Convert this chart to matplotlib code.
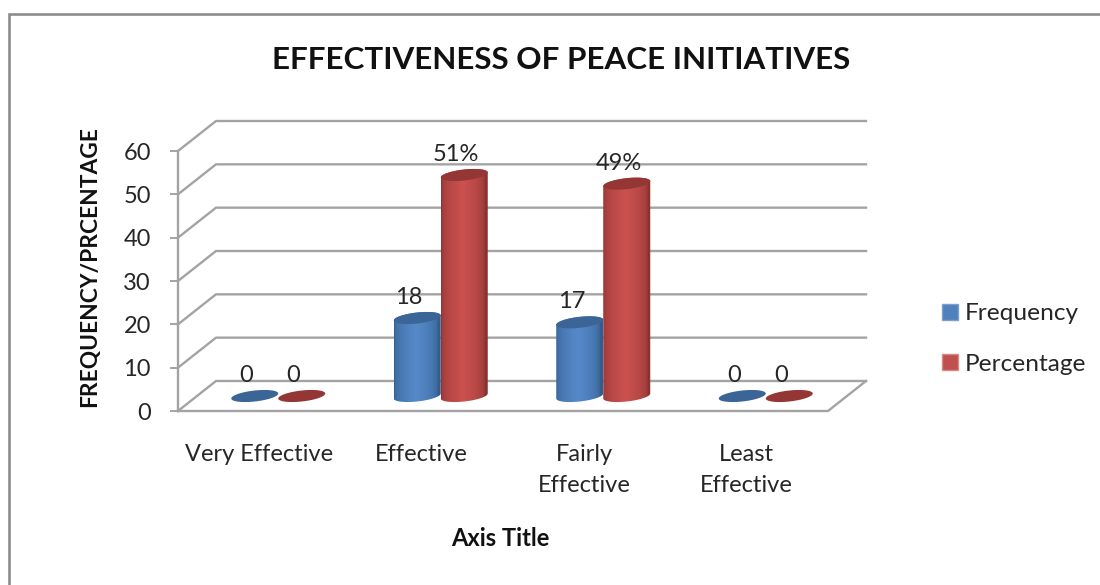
import numpy as np
import matplotlib
matplotlib.use('Agg')
import matplotlib.pyplot as plt
from matplotlib.lines import Line2D
from matplotlib.patches import Patch, Polygon

categories = ['Very Effective', 'Effective', 'Fairly\nEffective', 'Least\nEffective']
frequency = [0, 18, 17, 0]
percentage = [0, 51, 49, 0]
percentage_labels = ['0', '51%', '49%', '0']
yticks = [0, 10, 20, 30, 40, 50, 60]

W, H = 1100, 585
plt.rcParams['font.family'] = ['Lato', 'DejaVu Sans']
fig = plt.figure(figsize=(W / 100, H / 100), dpi=100)
ax = fig.add_axes([178 / W, 1 - 411 / H, 650 / W, 260 / H])
ax.set_xlim(-0.5, 3.5)
ax.set_ylim(0, 60)

# depth of the fake 3d box, in data units
dx = 38 / 162.5
dy = 30 / 4.333
grid = '#a3a3a3'
txt = '#262626'

for y in yticks:
    ax.plot([-0.5, -0.5 + dx, 3.5 + dx], [y, y + dy, y + dy], color=grid, lw=1.7,
            clip_on=False, zorder=1, solid_joinstyle='miter')
# floor
ax.plot([-0.5, 3.5, 3.5 + dx], [0, 0, dy], color=grid, lw=1.7, clip_on=False, zorder=1)

for s in ['top', 'right', 'bottom']:
    ax.spines[s].set_visible(False)
ax.spines['left'].set_color(grid)
ax.spines['left'].set_linewidth(1.7)
ax.set_xticks(range(4))
ax.set_xticklabels(categories, fontsize=17, color=txt, linespacing=1.6)
ax.tick_params(axis='x', length=0, pad=23.5)
ax.set_yticks(yticks)
ax.set_yticklabels(yticks, fontsize=17, color=txt)
ax.tick_params(axis='y', length=6, width=1.4, color=grid, pad=13.5)
ax.patch.set_alpha(0)

bar_w = 47 / 162.5
a = bar_w / 2
b = 5.5 / 4.333
s = 2.5 / 4.333
t = np.linspace(0, 2 * np.pi, 120)


def ellipse(cx, cy):
    return np.c_[cx + a * np.cos(t), cy + b * np.sin(t) + s * np.cos(t)]


def cylinder(cx, base, val, dark, mid, top, z):
    if val > 0:
        bottom = ellipse(cx, base)[60:]
        upper = ellipse(cx, base + val)[:60]
        body = Polygon(np.r_[bottom, upper], transform=ax.transData, closed=True)
        # shading across the round side
        u = np.linspace(0, 1, 100)
        w = np.clip(1 - np.abs(u - 0.47) / 0.47, 0, 1) ** 0.4
        cols = np.outer(1 - w, matplotlib.colors.to_rgb(dark)) + np.outer(w, matplotlib.colors.to_rgb(mid))
        im = ax.imshow(cols[None, :, :], extent=[cx - a, cx + a, base - 3, base + val + 3],
                       aspect='auto', zorder=z, clip_on=True)
        im.set_clip_path(body)
    ax.add_patch(Polygon(ellipse(cx, base + val), closed=True, fc=top, ec='none', zorder=z + 0.1, clip_on=False))


for i in range(4):
    base = dy / 2
    cx_f = i + dx / 2 - a
    cx_p = i + dx / 2 + a
    cylinder(cx_f, base, frequency[i], '#335d8d', '#5689c9', '#3a6596', 3)
    cylinder(cx_p, base, percentage[i], '#893331', '#cb514f', '#943634', 4)
    ax.annotate(str(frequency[i]), (cx_f, base + frequency[i]), xytext=(-6, 15),
                textcoords='offset points', ha='center', va='center',
                fontsize=17, color=txt, zorder=6, annotation_clip=False)
    ax.annotate(percentage_labels[i], (cx_p, base + percentage[i]), xytext=(-6, 14.5),
                textcoords='offset points', ha='center', va='center',
                fontsize=17, color=txt, zorder=6, annotation_clip=False)
ax.set_xlim(-0.5, 3.5)
ax.set_ylim(0, 60)

fig.text(561 / W, 1 - 60 / H, 'EFFECTIVENESS OF PEACE INITIATIVES', ha='center', va='center',
         fontsize=22.6, fontweight='bold', color='#111111')
fig.text(90 / W, 1 - 267 / H, 'FREQUENCY/PRCENTAGE', rotation=90, ha='center', va='center',
         fontsize=16.4, fontweight='bold', color='#111111')
fig.text(500 / W, 1 - 539 / H, 'Axis Title', ha='center', va='center',
         fontsize=17, fontweight='bold', color='#111111')

handles = [Patch(fc='#4f81bd', ec='#7ba0cd', label='Frequency'),
           Patch(fc='#c0504d', ec='#d58a88', label='Percentage')]
fig.legend(handles=handles, loc='center left', bbox_to_anchor=(935 / W, 1 - 339 / H),
           frameon=False, fontsize=17.6, labelcolor=txt, handlelength=0.65, handleheight=0.65,
           handletextpad=0.26, labelspacing=1.2, borderaxespad=0, borderpad=0.3)

# outer chart border, runs off the cropped edges
fig.add_artist(Line2D([8.5 / W, 8.5 / W, 1], [0, 1 - 13.5 / H, 1 - 13.5 / H], transform=fig.transFigure,
                      color='#8c8c8c', lw=1.9, solid_joinstyle='miter'))

fig.savefig('out.png', dpi=100)
